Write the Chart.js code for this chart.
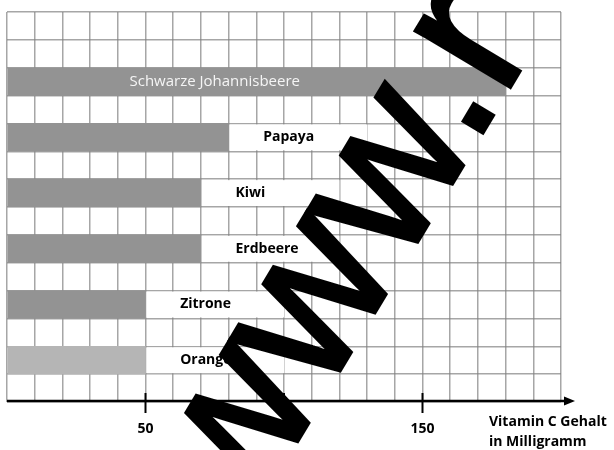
<!DOCTYPE html>
<html>
<head>
<meta charset="utf-8">
<script src="https://cdn.jsdelivr.net/npm/chart.js@4.4.1/dist/chart.umd.min.js"></script>
<style>
  body { margin: 0; background: #fff; }
</style>
</head>
<body>
<canvas id="vitaminChart" width="614" height="450"></canvas>
<script>
// Vitamin C Gehalt (mg) per fruit, top to bottom
const fruits = ['Schwarze Johannisbeere', 'Papaya', 'Kiwi', 'Erdbeere', 'Zitrone', 'Orange'];
const vitaminC = [180, 80, 70, 70, 50, 50];
const tickLabels = [50, 100, 150];
const axisTitle = ['Vitamin C Gehalt', 'in Milligramm'];
const watermark = 'www.r';

// two empty rows on top, then every bar followed by an empty row
const rows = ['', ''];
const rowValues = [null, null];
fruits.forEach((f, i) => {
    rows.push(f, '');
    rowValues.push(vitaminC[i], null);
});

const FONT = '"Open Sans", sans-serif';

// labels, axis arrow, ticks and the watermark drawn on top
const decorations = {
    id: 'decorations',
    afterDraw(chart) {
        const { ctx, chartArea: area, scales: { x, y } } = chart;
        const rowH = Math.abs(y.getPixelForValue(1) - y.getPixelForValue(0));
        ctx.save();
        ctx.textBaseline = 'middle';

        fruits.forEach((name, i) => {
            const cy = y.getPixelForValue(rows.indexOf(name));
            const v = vitaminC[i];
            if (i === 0) {
                ctx.font = '15px ' + FONT;
                ctx.fillStyle = '#f5f5f5';
                ctx.textAlign = 'center';
                ctx.fillText(name, x.getPixelForValue(75), cy);
            } else {
                const x0 = x.getPixelForValue(v);
                const x1 = x.getPixelForValue(v + 50);
                ctx.fillStyle = '#fff';
                ctx.fillRect(x0 + 1, cy - rowH / 2 + 1, x1 - x0 - 1, rowH - 2);
                ctx.font = 'bold 14px ' + FONT;
                ctx.fillStyle = '#000';
                ctx.textAlign = 'left';
                ctx.fillText(name, x.getPixelForValue(v + 12.5), cy);
            }
        });

        // x axis line with arrow
        const ay = area.bottom - 1;
        ctx.strokeStyle = '#000';
        ctx.fillStyle = '#000';
        ctx.lineWidth = 2.5;
        ctx.beginPath();
        ctx.moveTo(area.left, ay);
        ctx.lineTo(area.right + 6, ay);
        ctx.stroke();
        ctx.beginPath();
        ctx.moveTo(area.right + 14, ay);
        ctx.lineTo(area.right + 3, ay - 4.5);
        ctx.lineTo(area.right + 3, ay + 4.5);
        ctx.closePath();
        ctx.fill();

        // tick marks
        ctx.lineWidth = 2;
        tickLabels.forEach(v => {
            const tx = x.getPixelForValue(v);
            ctx.beginPath();
            ctx.moveTo(tx, ay - 8);
            ctx.lineTo(tx, ay + 12);
            ctx.stroke();
        });

        // axis title
        ctx.font = 'bold 14px ' + FONT;
        ctx.textAlign = 'left';
        ctx.fillText(axisTitle[0], area.right - 72, ay + 21);
        ctx.fillText(axisTitle[1], area.right - 72, ay + 41);

        // watermark
        const ang = 59 * Math.PI / 180;
        const size = 208;
        ctx.font = size + 'px "Liberation Sans", Arial, sans-serif';
        ctx.textBaseline = 'alphabetic';
        const off = ctx.measureText('www').width + 0.14 * size;
        const px = 494, py = 114;
        ctx.translate(px - off * Math.cos(ang), py + off * Math.sin(ang));
        ctx.rotate(-ang);
        ctx.lineWidth = 4;
        ctx.lineJoin = 'miter';
        ctx.fillText(watermark, 0, 0);
        ctx.strokeText(watermark, 0, 0);
        ctx.restore();
    }
};

const chart = new Chart(document.getElementById('vitaminChart').getContext('2d'), {
    type: 'bar',
    data: {
        labels: rows,
        datasets: [{
            data: rowValues,
            backgroundColor: c => rows[c.dataIndex] === 'Orange' ? '#b5b5b5' : '#939393',
            barPercentage: 1,
            categoryPercentage: 1,
            borderWidth: 0
        }]
    },
    options: {
        indexAxis: 'y',
        responsive: false,
        animation: false,
        layout: { padding: { left: 7, right: 53, top: 12, bottom: 0 } },
        plugins: {
            legend: { display: false },
            tooltip: { enabled: false }
        },
        scales: {
            x: {
                type: 'linear',
                min: 0,
                max: 200,
                z: 1,
                border: { display: false },
                grid: {
                    color: 'rgba(130,130,130,0.71)',
                    lineWidth: 1.5,
                    drawTicks: true,
                    tickLength: 19,
                    tickColor: 'transparent'
                },
                ticks: {
                    stepSize: 10,
                    maxTicksLimit: 40,
                    autoSkip: false,
                    maxRotation: 0,
                    padding: 0,
                    color: '#000',
                    font: { family: FONT, size: 14, weight: 'bold' },
                    callback: v => tickLabels.includes(v) ? String(v) : ''
                },
                afterFit: s => { s.height = 48; }
            },
            y: {
                z: 1,
                border: { display: false },
                grid: { color: 'rgba(130,130,130,0.71)', lineWidth: 1.5, drawTicks: false, offset: true },
                ticks: { display: false },
                afterFit: s => { s.width = 0; }
            }
        }
    },
    plugins: [decorations]
});
</script>
</body>
</html>
